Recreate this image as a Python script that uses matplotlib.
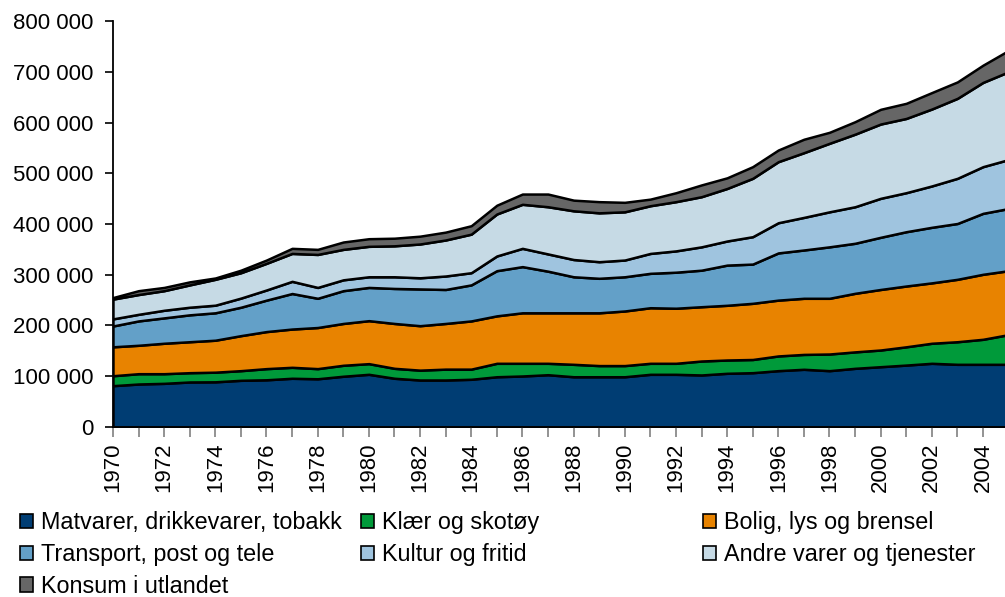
"""Household consumption by category, stacked area chart, 1970-2005."""

import matplotlib

matplotlib.use("Agg")
import matplotlib.pyplot as plt
from matplotlib.patches import Patch
from matplotlib.ticker import FuncFormatter

plt.rcParams["font.family"] = ["Liberation Sans", "DejaVu Sans"]

years = list(range(1970, 2006))

categories = [
    "Matvarer, drikkevarer, tobakk",
    "Klær og skotøy",
    "Bolig, lys og brensel",
    "Transport, post og tele",
    "Kultur og fritid",
    "Andre varer og tjenester",
    "Konsum i utlandet",
]

matvarer = [
    81400, 84700, 86000, 88700, 89000, 92000, 93000, 96000, 95000, 100000,
    103800, 96000, 92600, 92600, 94000, 99000, 100500, 103000, 99000, 99000,
    99000, 103800, 103800, 102500, 105800, 107000, 111000, 113700, 111000, 115600,
    118800, 122000, 125500, 123500, 123500, 123500,
]
klaer = [
    19600, 20300, 19000, 18300, 19000, 19000, 22000, 21600, 20000, 21600,
    21000, 19600, 19400, 21400, 20000, 26500, 25000, 22500, 24500, 22000,
    22000, 21700, 21700, 27500, 26200, 26000, 29000, 29300, 32800, 32400,
    32900, 36000, 39500, 44500, 49300, 58500,
]
bolig = [
    57000, 56000, 60000, 61000, 63000, 69000, 73000, 75400, 81000, 82400,
    84700, 88400, 87600, 90000, 95000, 93500, 99500, 99500, 101500, 104000,
    107600, 109500, 108500, 107000, 107800, 110700, 110000, 110600, 109800, 115400,
    119300, 119800, 119000, 123000, 128100, 126000,
]
transport = [
    41000, 48000, 50000, 53000, 54000, 56000, 62000, 70000, 57600, 64600,
    65500, 69000, 72400, 67000, 71000, 89000, 91000, 82000, 71000, 68000,
    67400, 67800, 71000, 72000, 79200, 77300, 93000, 95200, 101400, 98600,
    102800, 107000, 109500, 110000, 120100, 122500,
]
kultur = [
    14000, 13000, 15000, 15000, 15000, 18000, 20000, 24000, 21400, 21400,
    21000, 23000, 22000, 26500, 24000, 29000, 36000, 34000, 34000, 32700,
    33000, 39200, 42000, 46000, 47500, 54000, 59500, 64200, 69000, 72000,
    76800, 76900, 81500, 89000, 92000, 96500,
]
andre = [
    39000, 39000, 38600, 44000, 51000, 50000, 52500, 55000, 65000, 60000,
    60000, 61000, 66600, 71000, 76000, 82700, 86800, 93000, 96000, 96300,
    95000, 94000, 97000, 98800, 103500, 115000, 120300, 127500, 135000, 143000,
    146400, 146300, 151600, 157600, 166000, 173000,
]
utlandet = [
    3000, 7600, 6400, 6000, 2600, 5000, 6500, 10000, 10000, 14500,
    15000, 15000, 15400, 15500, 16600, 17300, 20200, 25000, 21000, 22000,
    18700, 13000, 17600, 23200, 21000, 23000, 23000, 26500, 21700, 24600,
    29000, 29800, 32400, 32400, 34000, 42000,
]

colors = ["#003d73", "#009a3a", "#e88300", "#63a0c8", "#9fc4df", "#c6dae5", "#666666"]

series = [matvarer, klaer, bolig, transport, kultur, andre, utlandet]

fig = plt.figure(figsize=(10.05, 5.97), dpi=100)
ax = fig.add_axes([0.1124, 0.2848, 0.8876, 0.6800])

ax.stackplot(years, *series, colors=colors, edgecolor="black", linewidth=1.8)

ax.set_xlim(1970, 2004.86)
ax.set_ylim(0, 800000)
ax.set_yticks(range(0, 800001, 100000))
ax.yaxis.set_major_formatter(FuncFormatter(lambda v, _: f"{int(v):,}".replace(",", " ")))
ax.set_xticks(years[:-1])
ax.set_xticklabels([str(y) if y % 2 == 0 else "" for y in years[:-1]], rotation=90)

for side in ["top", "right"]:
    ax.spines[side].set_visible(False)
ax.spines["left"].set_linewidth(1.3)
ax.spines["bottom"].set_linewidth(1.3)
ax.tick_params(axis="y", labelsize=16, length=6, width=1.2, pad=8)
ax.tick_params(axis="x", labelsize=16, length=7, width=1.2, color="#808080", pad=4)

# legend laid out row-wise like the original, so one legend per column
handles = [Patch(facecolor=c, edgecolor="black", linewidth=1.2) for c in colors]
columns = [(0.0199, [0, 3, 6]), (0.359, [1, 4]), (0.6995, [2, 5])]
for x0, idx in columns:
    fig.legend(
        [handles[i] for i in idx],
        [categories[i] for i in idx],
        loc="upper left",
        bbox_to_anchor=(x0, 0.144),
        frameon=False,
        fontsize=16.8,
        handlelength=0.56,
        handleheight=0.56,
        handletextpad=0.33,
        labelspacing=0.38,
        borderpad=0,
        borderaxespad=0,
    )

fig.savefig("out.png", dpi=100)
